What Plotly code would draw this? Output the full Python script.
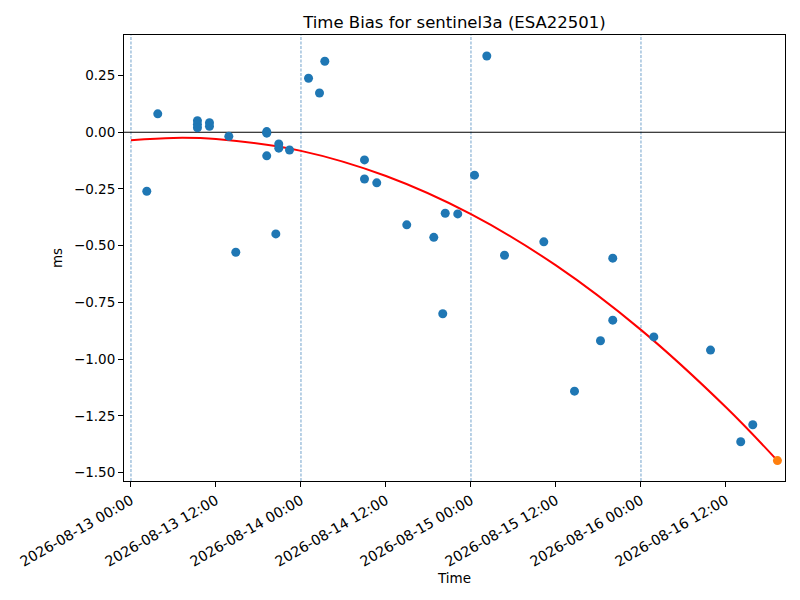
import plotly.graph_objects as go

# observed time bias points (ms)
obs_time = [
    '2026-08-13 02:14', '2026-08-13 03:47',
    '2026-08-13 09:23', '2026-08-13 09:23', '2026-08-13 09:23',
    '2026-08-13 11:05', '2026-08-13 11:05',
    '2026-08-13 13:49', '2026-08-13 14:48',
    '2026-08-13 19:10', '2026-08-13 19:10', '2026-08-13 19:10',
    '2026-08-13 20:27', '2026-08-13 20:52', '2026-08-13 20:52',
    '2026-08-13 22:23',
    '2026-08-14 01:04', '2026-08-14 02:37', '2026-08-14 03:22',
    '2026-08-14 08:58', '2026-08-14 08:58', '2026-08-14 10:42',
    '2026-08-14 14:56', '2026-08-14 18:45', '2026-08-14 20:01',
    '2026-08-14 20:22', '2026-08-14 22:08',
    '2026-08-15 00:30', '2026-08-15 02:14', '2026-08-15 04:44',
    '2026-08-15 10:17', '2026-08-15 14:37', '2026-08-15 18:17',
    '2026-08-15 20:01', '2026-08-15 20:01',
    '2026-08-16 01:49', '2026-08-16 09:49', '2026-08-16 14:05',
    '2026-08-16 15:47',
]
obs_bias = [
    -0.260, 0.081,
    0.051, 0.035, 0.020,
    0.042, 0.026,
    -0.018, -0.529,
    0.003, -0.004, -0.104,
    -0.448, -0.052, -0.070,
    -0.078,
    0.238, 0.173, 0.313,
    -0.122, -0.206, -0.223,
    -0.408, -0.463, -0.800,
    -0.357, -0.360,
    -0.189, 0.336, -0.542,
    -0.483, -1.141, -0.919,
    -0.555, -0.828,
    -0.902, -0.960, -1.364,
    -1.289,
]

# last (predicted) point
last_time = ['2026-08-16 19:16']
last_bias = [-1.447]

# fitted curve
fit_time = ['2026-08-13 00:00', '2026-08-13 06:00', '2026-08-13 12:00',
            '2026-08-14 00:00', '2026-08-14 12:00', '2026-08-15 00:00',
            '2026-08-15 12:00', '2026-08-16 00:00', '2026-08-16 12:00',
            '2026-08-16 19:16']
fit_bias = [-0.035, -0.025, -0.030, -0.082, -0.193, -0.361,
            -0.587, -0.871, -1.212, -1.447]

midnights = ['2026-08-13 00:00', '2026-08-14 00:00',
             '2026-08-15 00:00', '2026-08-16 00:00']

fig = go.Figure()
fig.add_trace(go.Scatter(x=fit_time, y=fit_bias, mode='lines',
                         line=dict(color='red', width=2, shape='spline'),
                         showlegend=False))
fig.add_trace(go.Scatter(x=obs_time, y=obs_bias, mode='markers',
                         marker=dict(color='#1f77b4', size=9),
                         showlegend=False))
fig.add_trace(go.Scatter(x=last_time, y=last_bias, mode='markers',
                         marker=dict(color='#ff7f0e', size=9),
                         showlegend=False))

for m in midnights:
    fig.add_vline(x=m, line=dict(color='#4f8bbf', width=0.8, dash='3px,1.5px'),
                  layer='below')
fig.add_hline(y=0, line=dict(color='black', width=1), layer='below')

# page body has an 8px margin, so the figure is a bit smaller than the window
fig.update_layout(
    width=792, height=592,
    margin=dict(l=116, r=15, t=27, b=119),
    plot_bgcolor='white', paper_bgcolor='white',
    font=dict(family='DejaVu Sans', size=13.5, color='black'),
    title=dict(text='Time Bias for sentinel3a (ESA22501)', x=0.5, xref='paper',
               y=0.9764, yref='container', xanchor='center', yanchor='middle',
               font=dict(size=16.5)),
)
fig.update_xaxes(
    range=['2026-08-12 23:01', '2026-08-16 20:20'],
    dtick=12 * 3600 * 1000, tick0='2026-08-13 00:00',
    tickformat='%Y-%m-%d %H:%M', tickangle=-30,
    tickfont=dict(size=14.2), automargin=False,
    showgrid=False, zeroline=False,
    showline=True, linecolor='black', linewidth=1, mirror=True,
    ticks='outside', ticklen=5, tickcolor='black',
    title=dict(text='Time', standoff=4, font=dict(size=13.5)),
)
fig.update_yaxes(
    range=[-1.537, 0.4286],
    dtick=0.25, tick0=0, tickformat='.2f', automargin=False,
    showgrid=False, zeroline=False,
    showline=True, linecolor='black', linewidth=1, mirror=True,
    ticks='outside', ticklen=5, tickcolor='black',
    title=dict(text='ms', standoff=8, font=dict(size=13.5)),
)

fig.write_html('out.html')
